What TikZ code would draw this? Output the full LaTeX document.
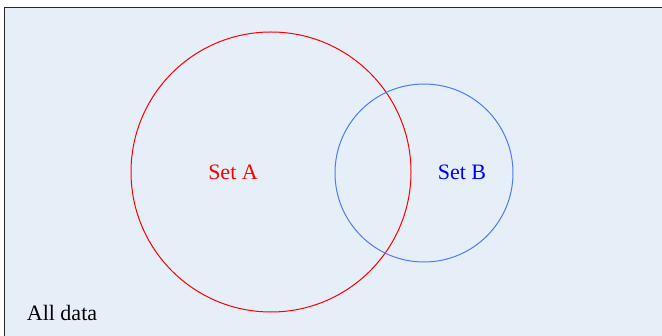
\documentclass[tikz,border=0pt]{standalone}
\usepackage{fontspec}
\setmainfont{Liberation Serif}
\definecolor{bgfill}{HTML}{E6EEF8}
\definecolor{setbline}{HTML}{4A7BF7}
\begin{document}
\begin{tikzpicture}[x=1pt,y=-1pt,
  lbl/.style={font=\fontsize{22}{25}\selectfont, inner sep=0pt},
  setcircle/.style={draw, circle, line width=1pt, inner sep=0pt}]
\useasboundingbox (0,0) rectangle (662,336);
\begin{scope}
\clip (0,0) rectangle (662,336);
\draw[fill=bgfill, draw=black!85, line width=1.5pt] (4.5,7.5) rectangle (680,350);
\end{scope}
\node[setcircle, draw=red, minimum size=280pt] (A) at (271,172) {};
\node[setcircle, draw=setbline, minimum size=178pt] (B) at (424,173) {};
\node[lbl, text=red] (la) at (233,172) {Set A};
\node[lbl, text=blue] (lb) at (462,172) {Set B};
\node[lbl, text=black] (all) at (62,313) {All data};
\end{tikzpicture}
\end{document}
